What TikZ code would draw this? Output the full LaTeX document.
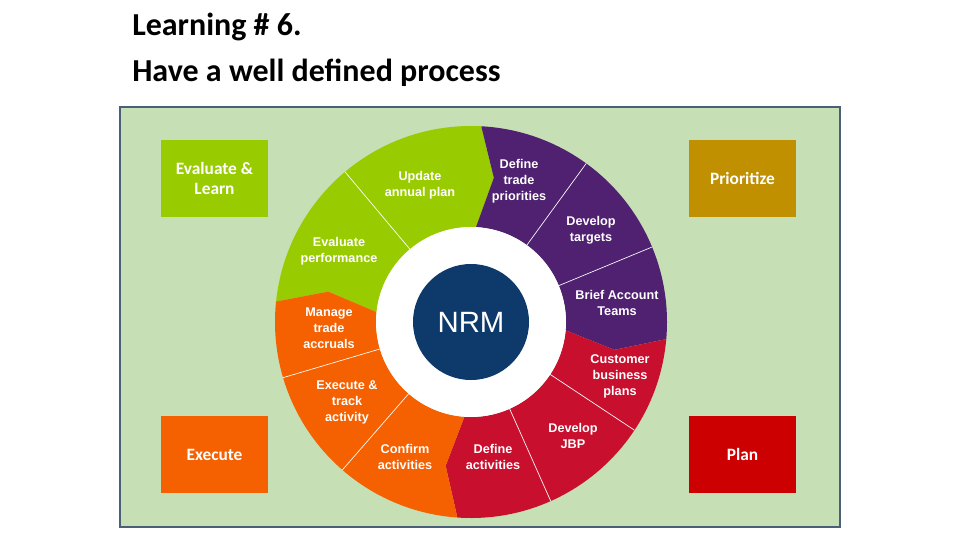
\documentclass[tikz,border=0pt]{standalone}
\usepackage{fontspec}
\setmainfont{Carlito}
\newfontfamily\wheelfont{Liberation Sans}
\definecolor{bggreen}{HTML}{C6DFB4}
\definecolor{framec}{HTML}{4A6078}
\definecolor{lgreen}{HTML}{99CC00}
\definecolor{lpurple}{HTML}{4F2170}
\definecolor{lred}{HTML}{C8102E}
\definecolor{lorange}{HTML}{F56000}
\definecolor{lgold}{HTML}{C09000}
\definecolor{lbred}{HTML}{CC0000}
\definecolor{nrmblue}{HTML}{0D3A6A}
\newcommand\wheelpart[3]{%
  \fill[#1] (#2:95) -- (#2-6:146) -- (#2:196) arc[start angle=#2, end angle=#3, radius=196]
    -- (#3-6:146) -- (#3:95) arc[start angle=#3, end angle=#2, radius=95] -- cycle;}
\begin{document}
\begin{tikzpicture}[x=0.75pt, y=0.75pt]
	\tikzstyle{box} = [minimum width=80pt, minimum height=58pt, text=white, font=\bfseries\fontsize{13}{15}\selectfont, align=center, inner sep=0pt]
	\tikzstyle{stage} = [text=white, font=\wheelfont\bfseries\fontsize{9.5}{12}\selectfont, align=center, inner sep=0pt]
	\tikzstyle{title} = [anchor=west, font=\bfseries\fontsize{24}{28}\selectfont, inner sep=0pt]
	\useasboundingbox (0,0) rectangle (960,540);
	\node[title] (Title1) at (132,513) {Learning \# 6.};
	\node[title] (Title2) at (132,467) {Have a well defined process};
	\draw[framec, fill=bggreen, line width=1pt] (120,13) rectangle (840,433);
	\node[box, fill=lgreen] (EvalLearn) at (214.5,361.5) {Evaluate \&\\Learn};
	\node[box, fill=lgold] (Prioritize) at (742.5,361.5) {Prioritize};
	\node[box, fill=lorange] (Execute) at (214.5,85.5) {Execute};
	\node[box, fill=lbred] (Plan) at (742.5,85.5) {Plan};
	\begin{scope}[shift={(471,218)}]
		\wheelpart{lgreen}{174}{87}
		\wheelpart{lpurple}{87}{-5}
		\wheelpart{lred}{-5}{-94}
		\wheelpart{lorange}{-94}{-186}
		\foreach \a in {130,54,22.5,-33.5,-66,-131,-163.5}
			\draw[white, line width=0.5pt] (\a:95) -- (\a:196);
		\fill[white] (0,0) circle[radius=95];
		\node[circle, fill=nrmblue, minimum size=87pt, text=white, font=\wheelfont\fontsize{22}{24}\selectfont] (NRM) at (0,0) {NRM};
	\end{scope}
	\node[stage] (UpdatePlan) at (420,355) {Update\\annual plan};
	\node[stage] (DefPriorities) at (519,359) {Define\\trade\\priorities};
	\node[stage] (DevTargets) at (591,310) {Develop\\targets};
	\node[stage] (EvalPerf) at (339,289) {Evaluate\\performance};
	\node[stage] (BriefTeams) at (617,237) {Brief Account\\Teams};
	\node[stage] (Accruals) at (329,212) {Manage\\trade\\accruals};
	\node[stage] (CustPlans) at (620,164) {Customer\\business\\plans};
	\node[stage] (ExecTrack) at (347,138) {Execute \&\\track\\activity};
	\node[stage] (DevJBP) at (573,104) {Develop\\JBP};
	\node[stage] (Confirm) at (405,83) {Confirm\\activities};
	\node[stage] (DefActs) at (493,83) {Define\\activities};
\end{tikzpicture}
\end{document}
